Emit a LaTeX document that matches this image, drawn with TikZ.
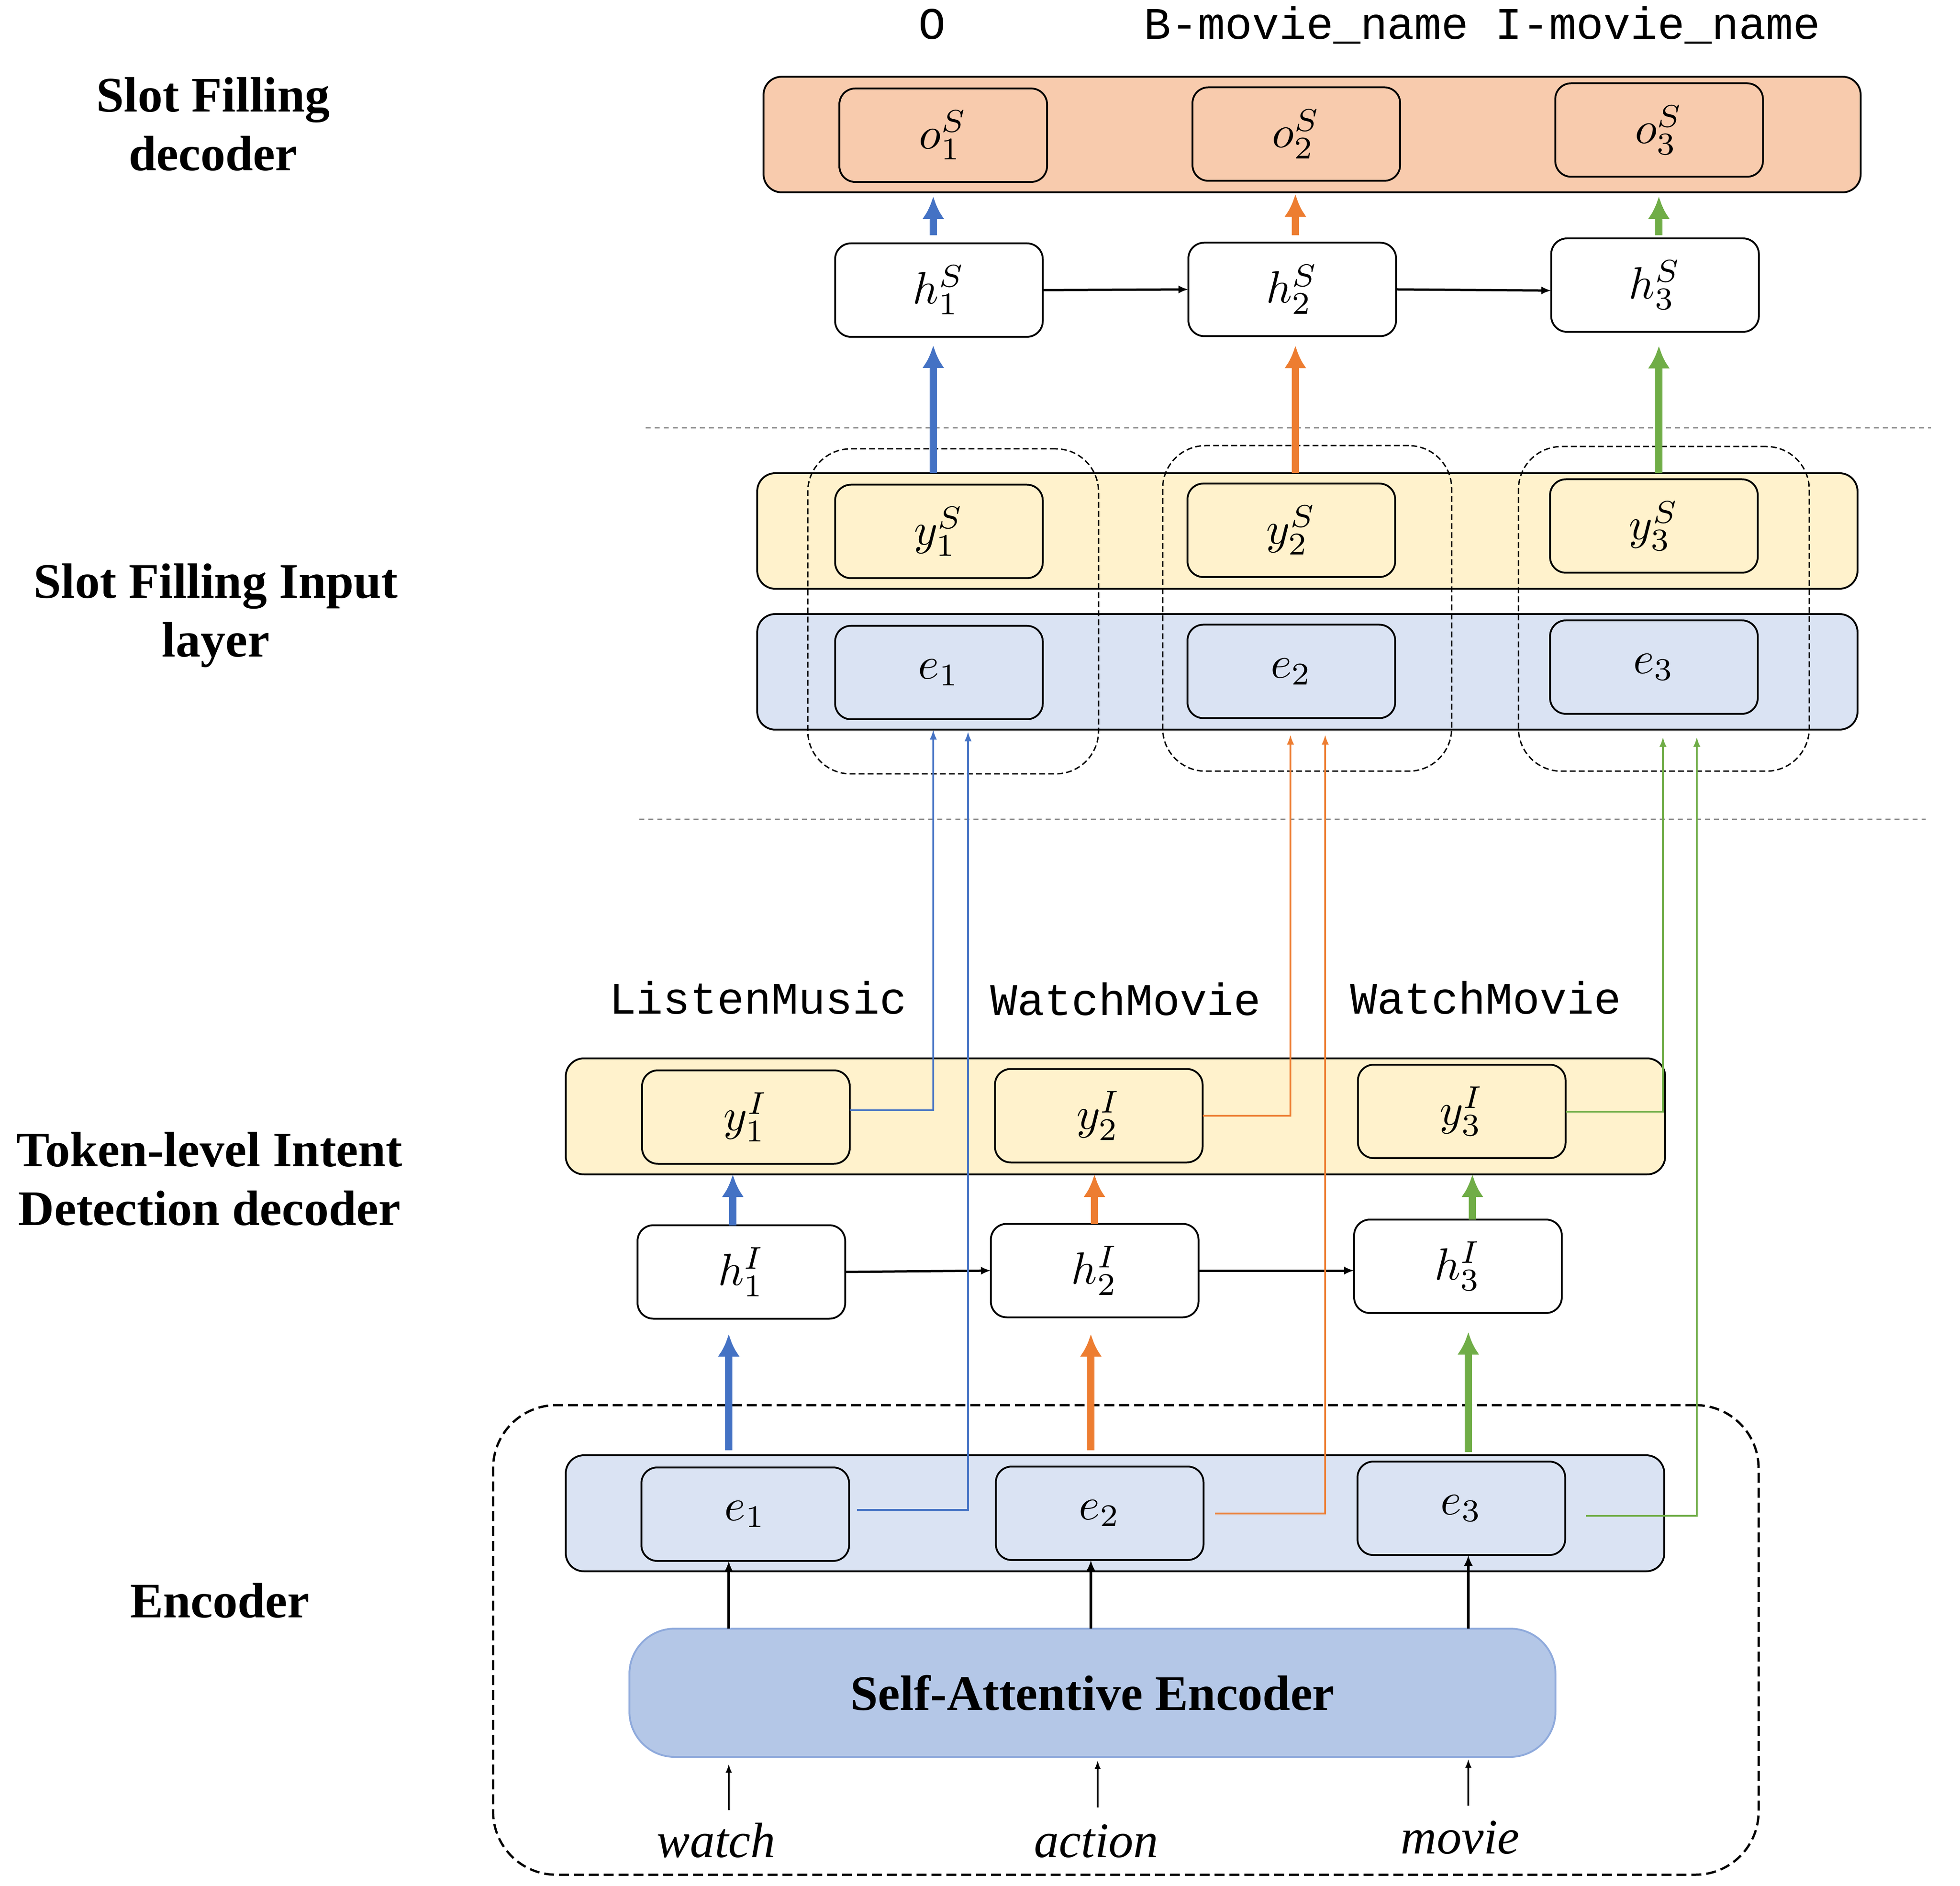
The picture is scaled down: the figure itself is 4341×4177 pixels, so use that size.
\documentclass[tikz,border=0pt]{standalone}
\usepackage{fontspec}
\setmainfont{Liberation Serif}
\setmonofont{Liberation Mono}
\usetikzlibrary{arrows.meta,calc}
\definecolor{orangeF}{HTML}{F8CBAD}
\definecolor{yellowF}{HTML}{FFF2CC}
\definecolor{blueF}{HTML}{DAE3F3}
\definecolor{saeF}{HTML}{B4C7E7}
\definecolor{saeD}{HTML}{8FAADC}
\definecolor{cB}{HTML}{4472C4}
\definecolor{cO}{HTML}{ED7D31}
\definecolor{cG}{HTML}{70AD47}
\definecolor{sepgray}{HTML}{8C8C8C}
\begin{document}
\begin{tikzpicture}[x=0.1pt,y=-0.1pt,
  box/.style={draw=black, line width=0.4pt, rounded corners=3.5pt, minimum width=46pt, minimum height=20.7pt, inner sep=0pt, outer sep=0pt, font=\fontsize{10}{12}\selectfont},
  band/.style={draw=black, line width=0.4pt, rounded corners=4pt, inner sep=0pt, outer sep=0pt},
  grp/.style={draw=black, line width=0.3pt, dash pattern=on 1.3pt off 0.7pt, rounded corners=9.5pt, inner sep=0pt, outer sep=0pt},
  encbox/.style={draw=black, line width=0.5pt, dash pattern=on 2.2pt off 1.1pt, rounded corners=14pt, inner sep=0pt, outer sep=0pt},
  sae/.style={draw=saeD, fill=saeF, line width=0.4pt, rounded corners=10pt, inner sep=0pt, outer sep=0pt, font=\fontsize{11}{13}\selectfont\bfseries},
  thk/.style={line width=1.6pt, -{Latex[length=5pt,width=4.9pt]}},
  thn/.style={line width=0.4pt, -{Latex[length=2.2pt,width=1.6pt]}},
  blk/.style={line width=0.5pt, -{Latex[length=2.2pt,width=1.8pt]}},
  enca/.style={line width=0.6pt, -{Latex[length=2.4pt,width=2pt]}},
  ina/.style={line width=0.4pt, -{Latex[length=2pt,width=1.4pt]}},
  sep/.style={draw=sepgray, line width=0.3pt, dash pattern=on 1.1pt off 0.9pt},
  lbl/.style={font=\fontsize{11}{13}\selectfont\bfseries, align=center, anchor=base, inner sep=0pt},
  tag/.style={font=\fontsize{10}{12}\selectfont\ttfamily, anchor=base, inner sep=0pt},
  word/.style={font=\fontsize{11}{13}\selectfont\itshape, anchor=base, inner sep=0pt}
]
\useasboundingbox (0,0) rectangle (4341,4177);

% column coordinates
\coordinate (a1) at (2067,0); \coordinate (a2) at (2869,0); \coordinate (a3) at (3674,0);
\coordinate (s1) at (2067,0); \coordinate (s2) at (2858,0); \coordinate (s3) at (3683,0);
\coordinate (t1) at (2144,0); \coordinate (t2) at (2935,0); \coordinate (t3) at (3758,0);
\coordinate (q1) at (1623,0); \coordinate (q2) at (2424,0); \coordinate (q3) at (3261,0);
\coordinate (p1) at (1614,0); \coordinate (p2) at (2416,0); \coordinate (p3) at (3252,0);
\coordinate (r2) at (2431,0);

% left labels (anchored at the baseline of their last line)
\node[lbl] (lab1) at (472,378) {Slot Filling\\decoder};
\node[lbl] (lab2) at (478,1455) {Slot Filling Input\\layer};
\node[lbl] (lab3) at (464,2713) {Token-level Intent\\Detection decoder};
\node[lbl] (lab4) at (487,3582) {Encoder};

% top tags
\node[tag] (tg1) at (2064,87) {O};
\node[tag] (tg2) at (2893,87) {B-movie\_name};
\node[tag] (tg3) at (3671,87) {I-movie\_name};

% separators
\coordinate (sepA1) at (1430,948); \coordinate (sepA2) at (4277,948);
\coordinate (sepB1) at (1416,1815); \coordinate (sepB2) at (4265,1815);
\draw[sep] (sepA1) -- (sepA2);
\draw[sep] (sepB1) -- (sepB2);

% slot filling decoder
\node[band, fill=orangeF, minimum width=243pt, minimum height=25.6pt] (bandO) at (2906,298) {};
\node[box, fill=orangeF] (o1) at (2089,299.5) {$o^S_1$\hspace{5pt}};
\node[box, fill=orangeF] (o2) at (2871,297) {$o^S_2$};
\node[box, fill=orangeF] (o3) at (3674.5,288) {$o^S_3$};
\node[box, fill=white] (h1S) at (2079.5,642.5) {$h^S_1$};
\node[box, fill=white] (h2S) at (2862,641) {$h^S_2$};
\node[box, fill=white] (h3S) at (3665.5,631.5) {$h^S_3$};

% slot filling input layer
\node[band, fill=yellowF, minimum width=243.7pt, minimum height=25.6pt] (bandY) at (2895.5,1176) {};
\node[band, fill=blueF, minimum width=243.7pt, minimum height=25.6pt] (bandE) at (2895.5,1488) {};
\node[box, fill=yellowF] (y1S) at (2079.5,1177) {$y^S_1$};
\node[box, fill=yellowF] (y2S) at (2860,1174.5) {$y^S_2$};
\node[box, fill=yellowF] (y3S) at (3663,1165) {$y^S_3$};
\node[box, fill=blueF] (e1S) at (2079.5,1489.5) {$e_1$};
\node[box, fill=blueF] (e2S) at (2860,1487) {$e_2$};
\node[box, fill=blueF] (e3S) at (3663,1477.5) {$e_3$};
\node[grp, minimum width=64.4pt, minimum height=72pt] (g1) at (2111,1354) {};
\node[grp, minimum width=64pt, minimum height=72.1pt] (g2) at (2895,1347.5) {};
\node[grp, minimum width=64.4pt, minimum height=71.9pt] (g3) at (3685,1348.5) {};

% intent decoder
\node[tag] (it1) at (1679,2246) {ListenMusic};
\node[tag] (it2) at (2493,2249) {WatchMovie};
\node[tag] (it3) at (3290,2246) {WatchMovie};
\node[band, fill=yellowF, minimum width=243.5pt, minimum height=25.7pt] (bandI) at (2470.5,2472.5) {};
\node[box, fill=yellowF] (y1I) at (1652,2474) {$y^I_1$\hspace{5.4pt}};
\node[box, fill=yellowF] (y2I) at (2433.5,2471) {$y^I_2$};
\node[box, fill=yellowF] (y3I) at (3237.5,2461.5) {$y^I_3$};
\node[box, fill=white] (h1I) at (1642,2817) {$h^I_1$\hspace{3.4pt}};
\node[box, fill=white] (h2I) at (2424.5,2814) {$h^I_2$};
\node[box, fill=white] (h3I) at (3229,2804.5) {$h^I_3$};

% encoder
\node[encbox, minimum width=280.3pt, minimum height=104pt] (encB) at (2493.5,3632) {};
\node[band, fill=blueF, minimum width=243.3pt, minimum height=25.7pt] (bandEnc) at (2469.5,3351.5) {};
\node[box, fill=blueF] (e1) at (1650.5,3353.5) {$e_1$\hspace{3pt}};
\node[box, fill=blueF] (e2) at (2435.5,3351.5) {$e_2$};
\node[box, fill=blueF] (e3) at (3236.5,3340.5) {$e_3$};
\node[sae, minimum width=205.1pt, minimum height=28.4pt] (sae) at (2419.5,3749) {Self-Attentive Encoder};
\node[word] (w1) at (1586,4113) {watch};
\node[word] (w2) at (2428,4113) {action};
\node[word] (w3) at (3234,4105) {movie};

% horizontal recurrent arrows
\draw[blk] (h1S.east) -- (h2S.west);
\draw[blk] (h2S.east) -- ([yshift=-1.2pt]h3S.west);
\draw[blk] (h1I.east) -- (h2I.west);
\draw[blk] (h2I.east) -- (h2I.east -| h3I.west);

% hS -> output band
\draw[thk, cB, shorten <=1.8pt, shorten >=0.9pt] (a1 |- h1S.north) -- (a1 |- bandO.south);
\draw[thk, cO, shorten <=1.6pt, shorten >=0.4pt] (a2 |- h2S.north) -- (a2 |- bandO.south);
\draw[thk, cG, shorten <=0.7pt, shorten >=0.9pt] (a3 |- h3S.north) -- (a3 |- bandO.south);

% slot input -> hS
\draw[thk, cB, shorten >=1.9pt] (a1 |- bandY.north) -- (a1 |- h1S.south);
\draw[thk, cO, shorten >=2.1pt] (a2 |- bandY.north) -- (a2 |- h2S.south);
\draw[thk, cG, shorten >=3.1pt] (a3 |- bandY.north) -- (a3 |- h3S.south);

% hI -> intent band
\draw[thk, cB] (q1 |- h1I.north) -- (q1 |- bandI.south);
\draw[thk, cO] (q2 |- h2I.north) -- (q2 |- bandI.south);
\draw[thk, cG] (q3 |- h3I.north) -- (q3 |- bandI.south);

% encoder band -> hI
\draw[thk, cB, shorten <=1.1pt, shorten >=3.4pt] (p1 |- bandEnc.north) -- (p1 |- h1I.south);
\draw[thk, cO, shorten <=1.1pt, shorten >=3.7pt] (p2 |- bandEnc.north) -- (p2 |- h2I.south);
\draw[thk, cG, shorten <=0.7pt, shorten >=4.2pt] (p3 |- bandEnc.north) -- (p3 |- h3I.south);

% SAE -> e
\draw[enca] (p1 |- sae.north) -- (p1 |- e1.south);
\draw[enca] (p2 |- sae.north) -- (p2 |- e2.south);
\draw[enca] (p3 |- sae.north) -- (p3 |- e3.south);

% words -> SAE
\draw[ina, shorten <=10.4pt, shorten >=1.5pt] (p1 |- w1.base) -- (p1 |- sae.south);
\draw[ina, shorten <=11pt, shorten >=0.7pt] (r2 |- w2.base) -- (r2 |- sae.south);
\draw[ina, shorten <=10.6pt, shorten >=0.4pt] (p3 |- w3.base) -- (p3 |- sae.south);

% intent predictions -> slot input
\draw[thn, cB] ([yshift=1.5pt]y1I.east) -| (s1 |- bandE.south);
\draw[thn, cO, shorten >=1.1pt] (y2I.east) -| (s2 |- bandE.south);
\draw[thn, cG, shorten >=1.6pt] (y3I.east) -| (s3 |- bandE.south);

% encoder embeddings -> slot input
\draw[thn, cB, shorten >=0.4pt] ([xshift=1.7pt,yshift=1pt]e1.east) -| (t1 |- bandE.south);
\draw[thn, cO, shorten >=1.1pt] ([xshift=2.5pt]e2.east) -| (t2 |- bandE.south);
\draw[thn, cG, shorten >=1.6pt] ([xshift=4.6pt,yshift=-1.65pt]e3.east) -| (t3 |- bandE.south);
\end{tikzpicture}
\end{document}
